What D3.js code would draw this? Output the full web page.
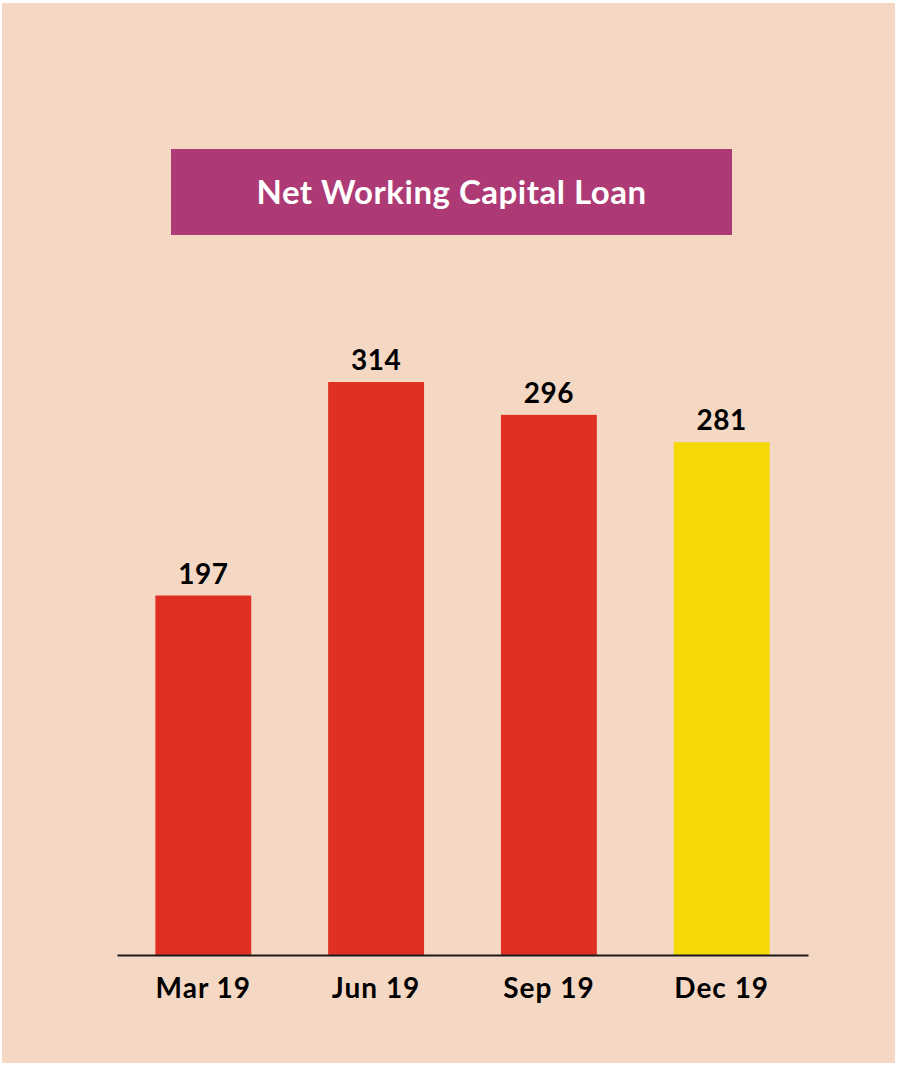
<!DOCTYPE html>
<html><head><meta charset="utf-8">
<script src="https://cdn.jsdelivr.net/npm/d3@7"></script>
<style>html,body{margin:0;padding:0;background:#fff;}</style>
</head><body>
<svg id="c" width="897" height="1066"></svg>
<script>
const categories = ["Mar 19", "Jun 19", "Sep 19", "Dec 19"];
const values = [197, 314, 296, 281];
const barColors = ["#E03022", "#E03022", "#E03022", "#F5D904"];
const title = "Net Working Capital Loan";

const svg = d3.select("#c");
const font = "Lato, 'Open Sans', sans-serif";
svg.append("rect").attr("x", 2).attr("y", 3).attr("width", 893).attr("height", 1060).attr("fill", "#F5D8C4");

svg.append("rect").attr("x", 171).attr("y", 149).attr("width", 561).attr("height", 86).attr("fill", "#AD3A75");
svg.append("text").attr("x", 451.5).attr("y", 204).attr("text-anchor", "middle")
  .attr("font-family", font).attr("font-weight", "bold").attr("font-size", 33)
  .attr("letter-spacing", 0.5).attr("fill", "#fff").text(title);

const baseline = 955;
const x = d3.scaleBand().domain(categories).range([117, 808]).paddingInner(0.445).paddingOuter(0.222);
const y = d3.scaleLinear().domain([0, 314]).range([baseline, 382]);

svg.selectAll(".bar").data(values).enter().append("rect")
  .attr("x", (d, i) => x(categories[i])).attr("width", x.bandwidth())
  .attr("y", d => y(d)).attr("height", d => baseline - y(d))
  .attr("fill", (d, i) => barColors[i]);

svg.selectAll(".lbl").data(values).enter().append("text")
  .attr("x", (d, i) => x(categories[i]) + x.bandwidth() / 2).attr("y", d => y(d) - 12)
  .attr("text-anchor", "middle").attr("font-family", font).attr("font-weight", "bold")
  .attr("font-size", 28).attr("letter-spacing", 0.5).attr("fill", "#000").text(d => d);

const axis = svg.append("g").attr("transform", `translate(0,${baseline})`)
  .call(d3.axisBottom(x).tickSize(0).tickPadding(23));
axis.select(".domain").attr("stroke", "#1a1a1a").attr("stroke-width", 2);
axis.selectAll("text").attr("font-family", font).attr("font-weight", "bold").attr("font-size", 28)
  .attr("letter-spacing", 1).attr("fill", "#000");
</script>
</body></html>
